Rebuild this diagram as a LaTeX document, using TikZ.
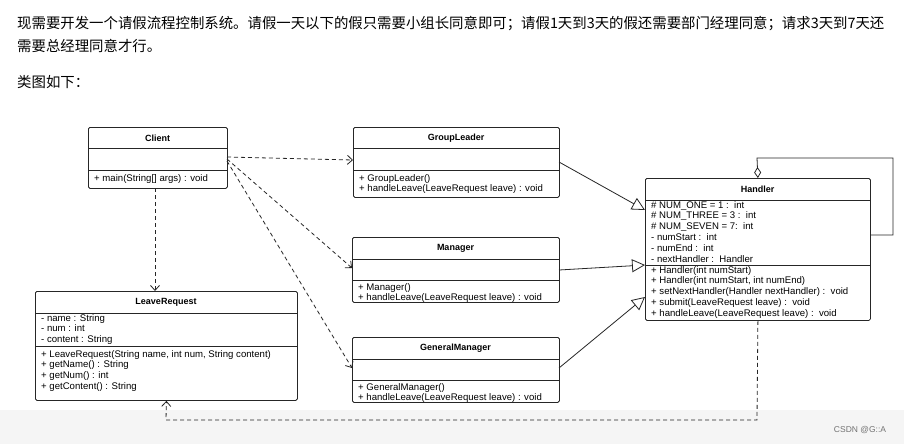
\documentclass[tikz,border=0pt]{standalone}
\usepackage{fontspec}
\setmainfont{Liberation Sans}
\newfontfamily\cjk{Noto Sans CJK SC}
\usetikzlibrary{arrows.meta,calc}
\begin{document}
\begin{tikzpicture}[x=1pt,y=-1pt,
  box/.style={draw=black!85,line width=0.8pt,rounded corners=1.5pt,anchor=north west,inner sep=0pt},
  ttl/.style={font=\fontsize{9}{10}\selectfont\bfseries,inner sep=0pt},
  txt/.style={font=\fontsize{9.6}{10.8}\selectfont,align=left,anchor=north west,inner sep=0pt},
  dep/.style={draw=black!85,line width=0.8pt,dashed,dash pattern=on 4pt off 3pt,-{Straight Barb[length=5pt,width=9pt]}},
  gen/.style={draw=black!85,line width=0.8pt,-{Triangle[open,length=13pt,width=13pt]}},
  sep/.style={draw=black!85,line width=0.8pt}]
\useasboundingbox[fill=white] (0,0) rectangle (904,444);
\fill[black!4] (0,410) rectangle (904,444);
\node[anchor=north west,inner sep=0pt,font=\cjk\fontsize{14.4}{23}\selectfont,align=left] (intro) at (17,16) {现需要开发一个请假流程控制系统。请假一天以下的假只需要小组长同意即可；请假1天到3天的假还需要部门经理同意；请求3天到7天还\\需要总经理同意才行。};
\node[anchor=north west,inner sep=0pt,font=\cjk\fontsize{14.4}{16}\selectfont] (cap) at (17,75) {类图如下：};
% Client
\node[box,minimum width=139,minimum height=61] (client) at (88,127) {};
\node[ttl] (clientT) at (157.5,138) {Client};
\draw[sep] (88,148) -- (227,148) (88,170) -- (227,170);
\node[txt] (clientM) at (94,174) {+ main(String[] args) : void};
% GroupLeader
\node[box,minimum width=206,minimum height=70] (gl) at (353,127) {};
\node[ttl] (glT) at (456,138) {GroupLeader};
\draw[sep] (353,148) -- (559,148) (353,170) -- (559,170);
\node[txt] (glM) at (359,174) {+ GroupLeader()\\+ handleLeave(LeaveRequest leave) : void};
% Manager
\node[box,minimum width=207,minimum height=65] (mgr) at (352,237) {};
\node[ttl] (mgrT) at (455.5,248) {Manager};
\draw[sep] (352,259) -- (559,259) (352,280) -- (559,280);
\node[txt] (mgrM) at (358,283) {+ Manager()\\+ handleLeave(LeaveRequest leave) : void};
% GeneralManager
\node[box,minimum width=207,minimum height=65] (gm) at (352,337) {};
\node[ttl] (gmT) at (455.5,348) {GeneralManager};
\draw[sep] (352,359) -- (559,359) (352,380) -- (559,380);
\node[txt] (gmM) at (358,383) {+ GeneralManager()\\+ handleLeave(LeaveRequest leave) : void};
% Handler
\node[box,minimum width=225,minimum height=142] (h) at (645,178) {};
\node[ttl] (hT) at (757.5,189) {Handler};
\draw[sep] (645,200) -- (870,200) (645,265) -- (870,265);
\node[txt] (hA) at (651,201) {\# NUM\_ONE = 1 :\ \ int\\\# NUM\_THREE = 3 :\ \ int\\\# NUM\_SEVEN = 7:\ \ int\\- numStart :\ \ int\\- numEnd :\ \ int\\- nextHandler :\ \ Handler};
\node[txt] (hM) at (651,266) {+ Handler(int numStart)\\+ Handler(int numStart, int numEnd)\\+ setNextHandler(Handler nextHandler) :\ \ void\\+ submit(LeaveRequest leave) :\ \ void\\+ handleLeave(LeaveRequest leave) :\ \ void};
% LeaveRequest
\node[box,minimum width=262,minimum height=109] (lr) at (35,291) {};
\node[ttl] (lrT) at (166,302) {LeaveRequest};
\draw[sep] (35,313) -- (297,313) (35,346) -- (297,346);
\node[txt] (lrA) at (41,314) {- name : String\\- num : int\\- content : String};
\node[txt] (lrM) at (41,350) {+ LeaveRequest(String name, int num, String content)\\+ getName() : String\\+ getNum() : int\\+ getContent() : String};
% connector end points
\coordinate (gl1) at (353,160);
\coordinate (mg1) at (352,268);
\coordinate (gm1) at (352,368);
\coordinate (lr1) at (155,291);
\coordinate (cl1) at (155,188);
\coordinate (cl2) at (227,157);
\coordinate (cl3) at (227,159);
\coordinate (cl4) at (227,161);
\coordinate (glR) at (559,162);
\coordinate (mgR) at (559,270);
\coordinate (gmR) at (559,368);
\coordinate (h1) at (645,210);
\coordinate (h2) at (645,265);
\coordinate (h3) at (645,297);
\draw[dep] (cl2) -- (gl1);
\draw[dep] (cl3) -- (mg1);
\draw[dep] (cl4) -- (gm1);
\draw[dep] (cl1) -- (lr1);
\draw[gen] (glR) -- (h1);
\draw[gen] (mgR) -- (h2);
\draw[gen] (gmR) -- (h3);
\coordinate (s1) at (757,158);
\coordinate (s2) at (893,158);
\coordinate (s3) at (893,235);
\coordinate (s4) at (870,235);
\draw[draw=black!85,line width=0.8pt,{Diamond[open,length=11pt,width=7pt]}-] (h.north) -- (s1) -- (s2) -- (s3) -- (s4);
\coordinate (d1) at (757,420);
\coordinate (d2) at (166,420);
\draw[dep] (h.south) -- (d1) -- (d2) -- (lr.south);
\node[font=\fontsize{8.5}{9}\selectfont,text=black!55] (wm) at (860,430) {CSDN @G::A};
\end{tikzpicture}
\end{document}
